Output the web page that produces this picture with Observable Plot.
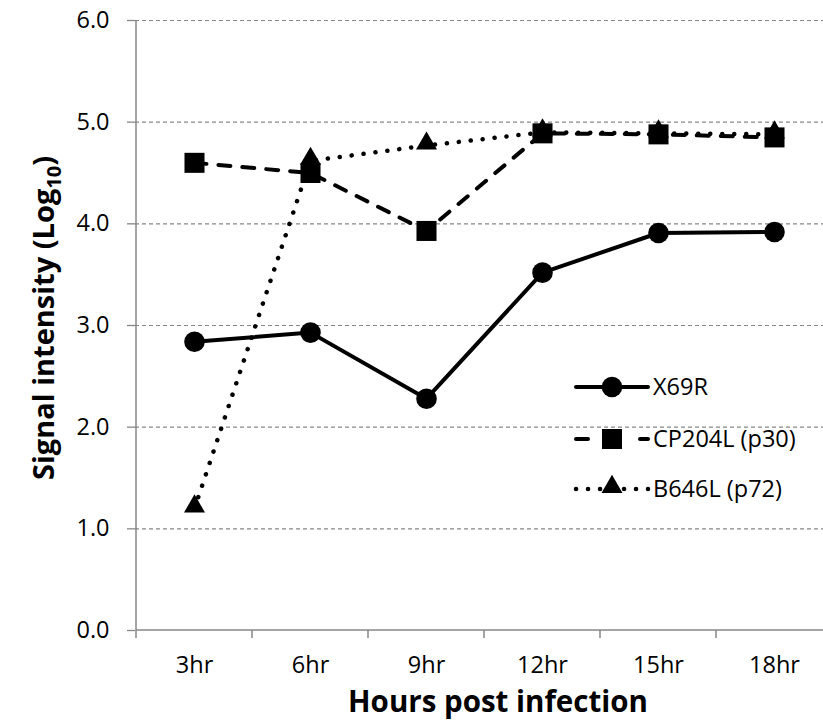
<!DOCTYPE html>
<html><head><meta charset="utf-8">
<script src="https://cdn.jsdelivr.net/npm/d3@7"></script>
<script src="https://cdn.jsdelivr.net/npm/@observablehq/plot@0.6"></script>
<style>
body{margin:0;background:#fff}
#chart{position:relative;width:823px;height:722px}
</style>
</head><body><div id="chart"></div>
<script>
// ---- data ----
const hours = ["3hr","6hr","9hr","12hr","15hr","18hr"];
const seriesNames = ["X69R","CP204L (p30)","B646L (p72)"];
const x69r   = [2.84, 2.93, 2.28, 3.52, 3.91, 3.92];
const cp204l = [4.60, 4.50, 3.93, 4.89, 4.88, 4.85];
const b646l  = [1.20, 4.62, 4.77, 4.90, 4.89, 4.88];
const yTicks = [0, 1, 2, 3, 4, 5, 6];
const gridTicks = [1, 2, 3, 4, 5, 6];

const seriesValues = [x69r, cp204l, b646l];
const symbols = ["circle", "square", "triangle"];
const symbolR = [10.3, 11.3, 7.8];
const dashes = [null, "12,12", "0.1,11.9"];
const widths = [4, 4, 4.5];

const rows = [];
seriesNames.forEach((s, i) => hours.forEach((h, j) => rows.push({series: s, hour: h, value: seriesValues[i][j], si: i})));

const W = 823, H = 722;
const font = "'Open Sans', sans-serif";
const gray = "#878787";
const tickFont = 23.5;

const marks = [
  Plot.gridY(gridTicks, {stroke: gray, strokeOpacity: 1, strokeWidth: 1.2, strokeDasharray: "4,3"}),
  Plot.axisY(yTicks, {tickSize: 8, tickPadding: 18, stroke: gray, strokeWidth: 1.3, tickFormat: d => d.toFixed(1), fontSize: tickFont, label: null}),
  Plot.axisX({tickSize: 0, tickPadding: 26, fontSize: tickFont, label: null})
];
seriesNames.forEach((s, i) => {
  const data = rows.filter(r => r.si === i);
  marks.push(Plot.line(data, {x: "hour", y: "value", stroke: "#000", strokeWidth: widths[i], strokeDasharray: dashes[i], strokeLinecap: "round", strokeLinejoin: "round"}));
});
seriesNames.forEach((s, i) => {
  const data = rows.filter(r => r.si === i);
  marks.push(Plot.dot(data, {x: "hour", y: "value", symbol: () => symbols[i], r: symbolR[i], fill: "#000", stroke: "none", dy: i === 2 ? -2 : 0}));
});

const chart = Plot.plot({
  width: W, height: H,
  marginLeft: 135, marginRight: 0, marginTop: 20, marginBottom: 92,
  x: {type: "band", domain: hours, range: [135, 833], padding: 0},
  y: {domain: [0, 6], range: [630, 20]},
  style: {fontFamily: font, fontSize: tickFont + "px", color: "#000", background: "#fff", overflow: "hidden"},
  marks
});
document.getElementById("chart").appendChild(chart);

// ---- extras drawn from the library's scales ----
const svg = d3.select(chart);
const xs = chart.scale("x"), ys = chart.scale("y");
const bw = xs.bandwidth;
const y0 = ys.apply(0), yTop = ys.apply(6);
const xLeft = xs.apply(hours[0]);
// axis lines
svg.append("line").attr("x1", xLeft).attr("x2", W).attr("y1", y0).attr("y2", y0).attr("stroke", gray).attr("stroke-width", 1.5);
svg.append("line").attr("x1", xLeft).attr("x2", xLeft).attr("y1", yTop).attr("y2", y0).attr("stroke", gray).attr("stroke-width", 1.5);
// x ticks at category boundaries
hours.forEach(h => {
  const xb = xs.apply(h);
  svg.append("line").attr("x1", xb).attr("x2", xb).attr("y1", y0).attr("y2", y0 + 8).attr("stroke", gray).attr("stroke-width", 1.5);
});
// axis titles
const plotCenterX = xLeft + bw * hours.length / 2;
svg.append("text").attr("x", plotCenterX + 14).attr("y", 712).attr("text-anchor", "middle")
  .attr("font-family", font).attr("font-weight", 700).attr("font-size", 29.5).text("Hours post infection");
const yt = svg.append("text").attr("transform", `translate(54,${(y0 + yTop) / 2 - 7}) rotate(-90)`).attr("text-anchor", "middle")
  .attr("font-family", font).attr("font-weight", 700).attr("font-size", 29);
yt.append("tspan").text("Signal intensity (Log");
yt.append("tspan").attr("font-size", 20).attr("dy", 7).text("10");
yt.append("tspan").attr("dy", -7).text(")");

// legend
const legendX = 576, legendY = [387, 439, 489];
const symGen = {circle: d3.symbolCircle, square: d3.symbolSquare, triangle: d3.symbolTriangle};
seriesNames.forEach((s, i) => {
  const g = svg.append("g").attr("transform", `translate(${legendX},${legendY[i]})`);
  g.append("line").attr("x1", 0).attr("x2", 72).attr("y1", 0).attr("y2", 0).attr("stroke", "#000")
    .attr("stroke-width", widths[i]).attr("stroke-linecap", "round").attr("stroke-dasharray", dashes[i] ? (i === 1 ? "12,20" : dashes[i]) : null);
  g.append("path").attr("transform", `translate(36,${i === 2 ? -2 : 0})`)
    .attr("d", d3.symbol(symGen[symbols[i]], symbolR[i] * symbolR[i] * Math.PI)()).attr("fill", "#000");
  g.append("text").attr("x", 77).attr("y", 0).attr("dy", "0.35em").attr("text-anchor", "start")
    .attr("font-family", font).attr("font-size", tickFont).text(s);
});
</script>
</body></html>
